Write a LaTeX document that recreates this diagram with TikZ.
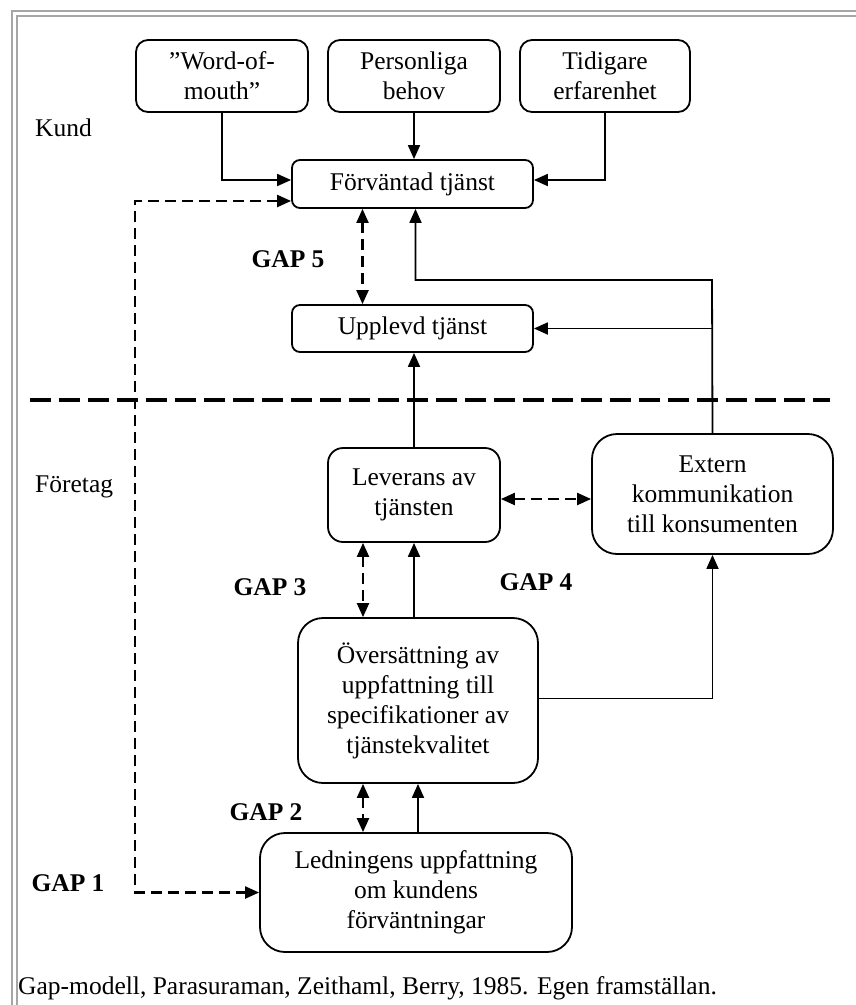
\documentclass[tikz,border=0pt]{standalone}
\usepackage{fontspec}
\setmainfont{Liberation Serif}
\usetikzlibrary{arrows.meta}
\tikzset{box/.style={draw,rounded corners=#1,line width=1.8pt,align=center,inner sep=0pt},
box/.default=10pt,
label/.style={inner sep=0pt},
gaplabel/.style={inner sep=0pt,font=\fontsize{25.5}{30}\selectfont\bfseries}}
\tikzstyle{arrow}    = [line width=1.8pt,-{Triangle[length=14pt,width=12pt]}]
\tikzstyle{gaparrow} = [line width=2.2pt,dash pattern=on 11pt off 6pt,{Triangle[length=14pt,width=12pt]}-{Triangle[length=14pt,width=12pt]}]

\begin{document}
\begin{tikzpicture}[x=1pt,y=-1pt,font=\fontsize{25.5}{30}\selectfont]
		\useasboundingbox (0,0) rectangle (856,1005);
		% frame
		\draw[gray!70,line width=2pt] (12,1005) -- (12,11) -- (856,11);
		\draw[gray!70,line width=2pt] (17,1005) -- (17,16) -- (856,16);
		% kund
		\node[box=12pt,minimum width=172pt,minimum height=72pt] (wom) at (222,76) {”Word-of-\\mouth”};
		\node[box=12pt,minimum width=172pt,minimum height=72pt] (beh) at (414,76) {Personliga\\behov};
		\node[box=12pt,minimum width=170pt,minimum height=72pt] (erf) at (605,76) {Tidigare\\erfarenhet};
		\node[box=8pt,minimum width=241pt,minimum height=48pt] (fvt) at (412.5,184) {Förväntad tjänst};
		\node[box=8pt,minimum width=241pt,minimum height=47pt] (upl) at (412.5,328.5) {Upplevd tjänst};
		% foretag
		\node[box=15pt,minimum width=172pt,minimum height=94pt] (lev) at (414,495) {Leverans av\\tjänsten};
		\node[box=25pt,minimum width=241pt,minimum height=120pt] (ext) at (712.5,494) {Extern\\kommunikation\\till konsumenten};
		\node[box=25pt,minimum width=240pt,minimum height=165pt] (ovs) at (418,700.5) {Översättning av\\uppfattning till\\specifikationer av\\tjänstekvalitet};
		\node[box=25pt,minimum width=312pt,minimum height=119pt] (led) at (416,892.5) {Ledningens uppfattning\\om kundens\\förväntningar};
		% labels
		\node[label,anchor=west] (kund) at (35,128) {Kund};
		\node[label,anchor=west] (foretag) at (35,487) {Företag};
		\node[gaplabel] (gap5) at (288,259) {GAP 5};
		\node[gaplabel] (gap3) at (270,587) {GAP 3};
		\node[gaplabel] (gap4) at (536,582) {GAP 4};
		\node[gaplabel] (gap2) at (266,812) {GAP 2};
		\node[gaplabel] (gap1) at (68,883) {GAP 1};
		\node[label,anchor=west] (caption) at (18,988) {Gap-modell, Parasuraman, Zeithaml, Berry, 1985. Egen framställan.};
		% divider
		\coordinate (divl) at (30,400);
		\coordinate (divr) at (830,400);
		\draw[line width=4.5pt,dash pattern=on 21pt off 8pt] (divl) -- (divr);
		% connectors
		\coordinate (ret) at (712,280);
		\coordinate (gapone) at (135,500);
		\draw[arrow] (wom.south) |- ([yshift=4pt]fvt.west);
		\draw[arrow] (beh.south) -- (beh.south |- fvt.north);
		\draw[arrow] (erf.south) |- ([yshift=4pt]fvt.east);
		\draw[gaparrow] ([yshift=-17pt]fvt.west) -| (gapone) |- (led.west);
		\draw[gaparrow] ([xshift=-50pt]fvt.south) -- ([xshift=-50pt]upl.north);
		\draw[arrow] (ext.north) -- (ret) -| ([xshift=3pt]fvt.south);
		\draw[arrow] (ret |- upl.east) -- (upl.east);
		\draw[arrow] (lev.north) -- (lev.north |- upl.south);
		\draw[gaparrow] ([yshift=-4pt]lev.east) -- ([yshift=-4pt]lev.east -| ext.west);
		\draw[gaparrow] ([xshift=-51pt]lev.south) -- ([xshift=-51pt]lev.south |- ovs.north);
		\draw[arrow] (lev.south |- ovs.north) -- (lev.south);
		\draw[arrow] ([yshift=2pt]ovs.east) -| (ext.south);
		\draw[gaparrow] ([xshift=-55pt]ovs.south) -- ([xshift=-55pt]ovs.south |- led.north);
		\draw[arrow] (ovs.south |- led.north) -- (ovs.south);
	\end{tikzpicture}
\end{document}
